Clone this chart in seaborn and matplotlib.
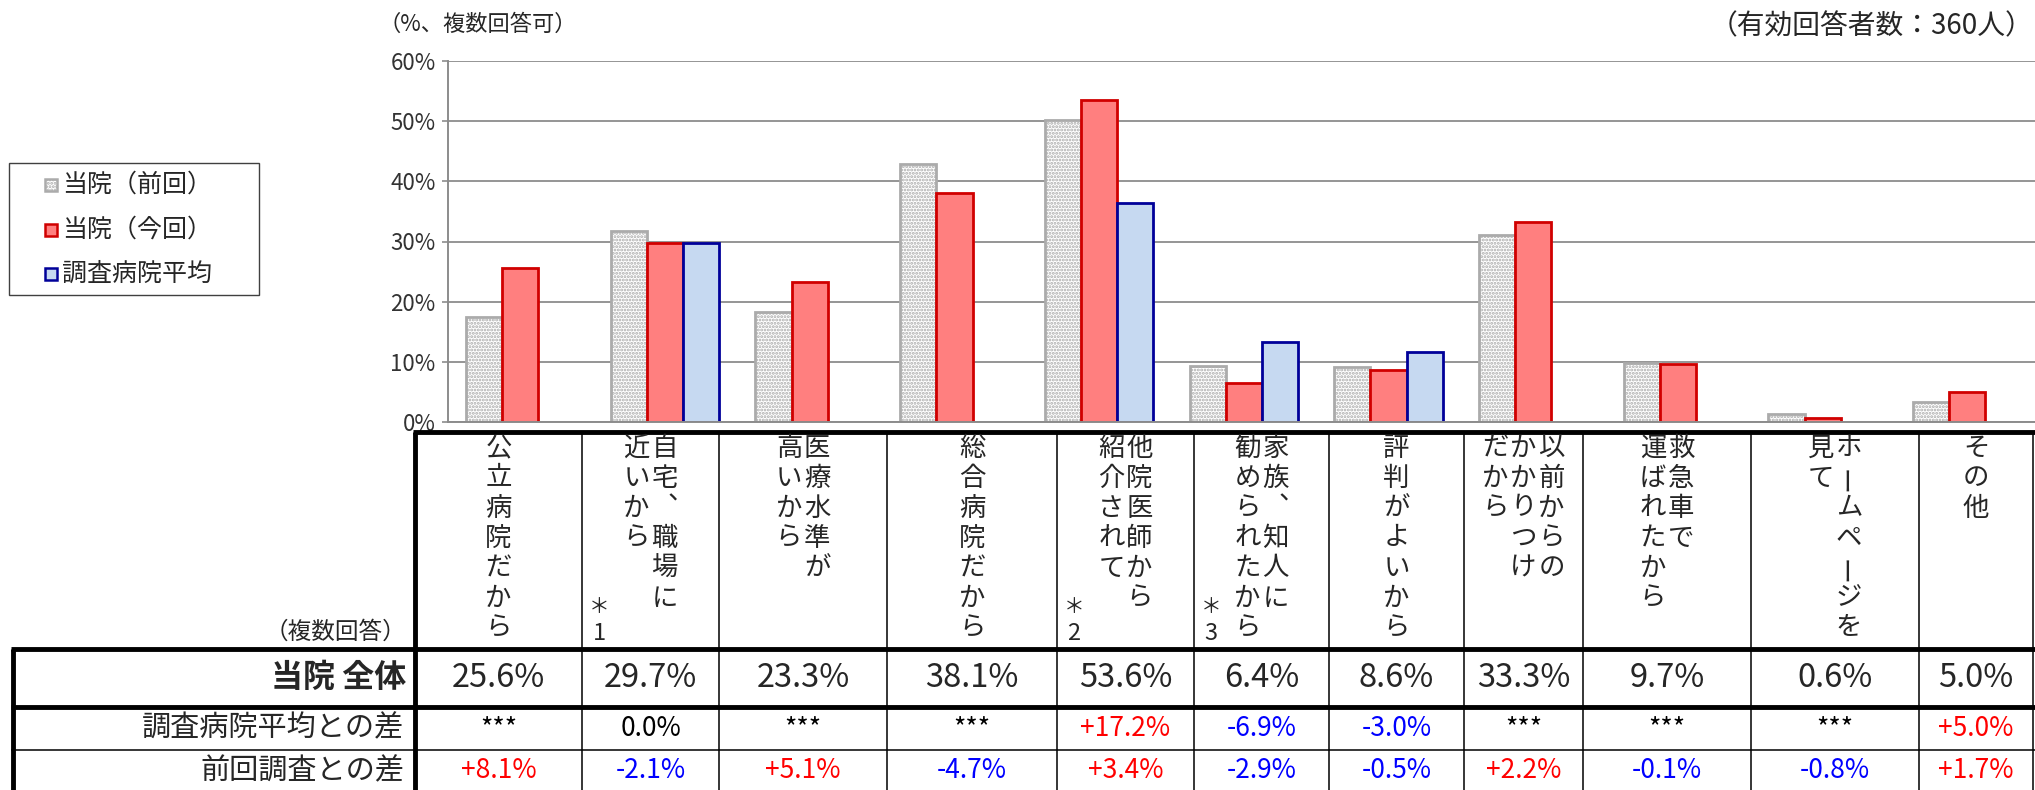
import numpy as np
import pandas as pd
import matplotlib
matplotlib.use("Agg")
import matplotlib.pyplot as plt
import seaborn as sns
from matplotlib.patches import Rectangle

# データ
categories = ["公立病院だから", "自宅、職場に近いから", "医療水準が高いから", "総合病院だから",
              "他院医師から紹介されて", "家族、知人に勧められたから", "評判がよいから",
              "以前からのかかりつけだから", "救急車で運ばれたから", "ホームページを見て", "その他"]
# 縦書きの見出し（右の列から順に）
header_lines = [["公立病院だから"], ["自宅︑職場に", "近いから"], ["医療水準が", "高いから"],
                ["総合病院だから"], ["他院医師から", "紹介されて"], ["家族︑知人に", "勧められたから"],
                ["評判がよいから"], ["以前からの", "かかりつけ", "だから"], ["救急車で", "運ばれたから"],
                ["ホームページを", "見て"], ["その他"]]
note_marks = ["", "1", "", "", "2", "3", "", "", "", "", ""]

series = ["当院（前回）", "当院（今回）", "調査病院平均"]
prev_vals = [17.5, 31.8, 18.2, 42.8, 50.2, 9.3, 9.1, 31.1, 9.8, 1.4, 3.3]
cur_vals = [25.6, 29.7, 23.3, 38.1, 53.6, 6.4, 8.6, 33.3, 9.7, 0.6, 5.0]
avg_vals = [np.nan, 29.7, np.nan, np.nan, 36.4, 13.3, 11.6, np.nan, np.nan, np.nan, np.nan]

diff_avg = [None, 0.0, None, None, 17.2, -6.9, -3.0, None, None, None, 5.0]
diff_prev = [8.1, -2.1, 5.1, -4.7, 3.4, -2.9, -0.5, 2.2, -0.1, -0.8, 1.7]
row_labels = ["当院 全体", "調査病院平均との差", "前回調査との差"]

yticks = [0, 10, 20, 30, 40, 50, 60]
ytick_labels = ["0%", "10%", "20%", "30%", "40%", "50%", "60%"]

fills = ["white", "#FF7F7F", "#C6D9F1"]
edges = ["#ABABAB", "#D00000", "#000099"]

df = pd.DataFrame({
    "category": categories * 3,
    "series": np.repeat(series, len(categories)),
    "value": prev_vals + cur_vals + avg_vals,
})

sns.set_theme(style="white")
plt.rcParams["font.family"] = ["Noto Sans CJK JP", "DejaVu Sans"]
plt.rcParams["hatch.linewidth"] = 1.4

W, H = 2035, 790
fig = plt.figure(figsize=(W / 100, H / 100), dpi=100)

# グラフ部分
ax_left, y0, y60 = 448, 422, 61
ax = fig.add_axes([ax_left / W, (H - y0) / H, 1 - ax_left / W, (y0 - y60) / H])
ax.set_facecolor("none")
sns.barplot(data=df, x="category", y="value", hue="series", order=categories, hue_order=series,
            palette=dict(zip(series, fills)), width=0.75, saturation=1, errorbar=None,
            legend=False, ax=ax)

for cont, ec, i in zip(ax.containers, edges, range(3)):
    for bar in cont:
        bar.set_edgecolor(ec)
        bar.set_linewidth(2.0)
        if i == 0:
            bar.set_hatch(".....")

ax.set_ylim(0, 60)
ax.set_xlim(-0.5, -0.5 + (W - ax_left) / 144.7)
ax.set_yticks(yticks)
ax.set_yticklabels(ytick_labels, fontsize=16, color="#333333")
ax.tick_params(axis="y", length=4, width=1.2, color="#8C8C8C", pad=5, left=True)
ax.tick_params(axis="x", labelbottom=False, length=0)
ax.set_xlabel("")
ax.set_ylabel("")
ax.yaxis.grid(True, color="#8C8C8C", linewidth=1.3)
ax.set_axisbelow(True)
for s in ["top", "right"]:
    ax.spines[s].set_visible(False)
for s in ["left", "bottom"]:
    ax.spines[s].set_color("#8C8C8C")
    ax.spines[s].set_linewidth(1.4)

# 表と注記（ピクセル座標）
tab = fig.add_axes([0, 0, 1, 1])
tab.set_axis_off()
tab.set_xlim(0, W)
tab.set_ylim(H, 0)

bounds = [415, 582, 719, 887, 1057, 1194, 1329, 1464, 1583, 1751, 1919, 2033]
top, hdr, r1, r2 = 432, 649, 707, 750
thick, thin = 3.5, 1.1


def hline(y, x0, x1, lw):
    tab.plot([x0, x1], [y, y], color="black", lw=lw, solid_capstyle="butt")


def vline(x, ya, yb, lw):
    tab.plot([x, x], [ya, yb], color="black", lw=lw, solid_capstyle="butt")


hline(top, 413, W, thick)
hline(hdr, 11, W, thick)
hline(r1, 11, W, thick)
hline(r2, 11, W, thin)
vline(13, hdr, H, thick)
vline(415, top, H, thick)
for b in bounds[1:]:
    vline(b, top, H, thin)

# 縦書き見出し
pitch_y, pitch_x, first_y = 30, 28, 448
for j, lines in enumerate(header_lines):
    cx = (bounds[j] + bounds[j + 1]) / 2
    n = len(lines)
    for k, line in enumerate(lines):
        x = cx + (n - 1) / 2 * pitch_x - k * pitch_x
        for m, ch in enumerate(line):
            y = first_y + m * pitch_y
            rot = 90 if ch == "ー" else 0
            tab.text(x, y, ch, ha="center", va="center", fontsize=19, rotation=rot)
    if note_marks[j]:
        tab.text(bounds[j] + 17, 607, "＊", ha="center", va="center", fontsize=15)
        tab.text(bounds[j] + 17, 633, note_marks[j], ha="center", va="center", fontsize=17)

tab.text(406, 632, "（複数回答）", ha="right", va="center", fontsize=17)

# 表の行
ymid = [(hdr + r1) / 2, (r1 + r2) / 2, (r2 + H) / 2 + 1]
tab.text(406, ymid[0], row_labels[0], ha="right", va="center", fontsize=23, fontweight="bold")
tab.text(404, ymid[1], row_labels[1], ha="right", va="center", fontsize=21)
tab.text(404, ymid[2], row_labels[2], ha="right", va="center", fontsize=21)


def fmt_diff(v):
    if v is None:
        return "***", "black"
    if v == 0:
        return "0.0%", "black"
    return f"{v:+.1f}%", ("#FF0000" if v > 0 else "#0000FF")


for j in range(len(categories)):
    cx = (bounds[j] + bounds[j + 1]) / 2
    tab.text(cx, ymid[0], f"{cur_vals[j]:.1f}%", ha="center", va="center", fontsize=23.5)
    s, c = fmt_diff(diff_avg[j])
    tab.text(cx, ymid[1], s, ha="center", va="center", fontsize=19, color=c)
    s, c = fmt_diff(diff_prev[j])
    tab.text(cx, ymid[2], s, ha="center", va="center", fontsize=19, color=c)

# 上部の注記
tab.text(378, 24, "（%、複数回答可）", ha="left", va="center", fontsize=16)
tab.text(2033, 26, "（有効回答者数：360人）", ha="right", va="center", fontsize=20, style="italic")

# 凡例
tab.add_patch(Rectangle((9, 163), 250, 132, facecolor="white", edgecolor="#404040", lw=1.0))
legend_y = [185, 230, 274]
for i, name in enumerate(series):
    tab.add_patch(Rectangle((45, legend_y[i] - 6), 12, 12, facecolor=fills[i], edgecolor=edges[i],
                            lw=1.8, hatch="....." if i == 0 else None))
    tab.text(62, legend_y[i], name, ha="left", va="center", fontsize=18)

fig.savefig("out.png", dpi=100)
